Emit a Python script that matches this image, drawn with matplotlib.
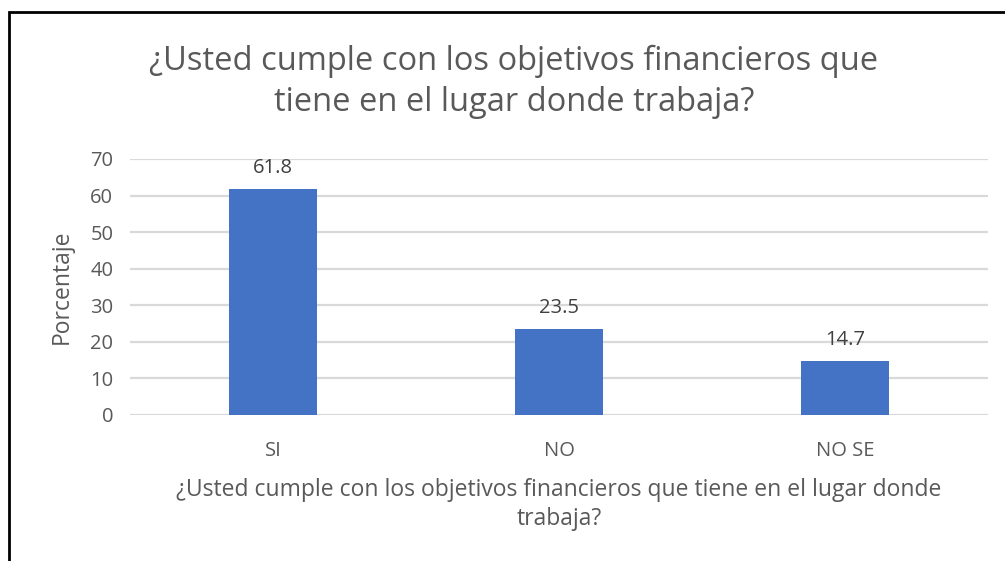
import numpy as np
import matplotlib.pyplot as plt
from matplotlib.patches import Rectangle

categorias = ['SI', 'NO', 'NO SE']
porcentajes = [61.8, 23.5, 14.7]
yticks = [0, 10, 20, 30, 40, 50, 60, 70]

gris = '#595959'
azul = '#4472C4'
plt.rcParams['font.family'] = ['Open Sans', 'DejaVu Sans']

fig = plt.figure(figsize=(10.05, 5.61), dpi=100)
ax = fig.add_axes([130/1005, 1-415/561, (988-130)/1005, (415-159)/561])

x = np.arange(len(categorias))
ax.bar(x, porcentajes, width=0.31, color=azul, zorder=3)
for xi, v in zip(x, porcentajes):
    ax.annotate(f'{v}', (xi, v), xytext=(0, 8), textcoords='offset points',
                ha='center', va='bottom', fontsize=14.5, color='#404040')

ax.set_xlim(-0.5, 2.5)
ax.set_ylim(0, 70)
ax.set_yticks(yticks)
ax.grid(axis='y', color='#d9d9d9', linewidth=1.6, zorder=0)
for s in ax.spines.values():
    s.set_visible(False)
ax.tick_params(length=0, labelsize=14.5, colors=gris, pad=12)
ax.tick_params(axis='x', pad=19)
ax.set_xticks(x)
ax.set_xticklabels(categorias)

ax.set_ylabel('Porcentaje', fontsize=16.5, color=gris, labelpad=12)
ax.set_xlabel('¿Usted cumple con los objetivos financieros que tiene en el lugar donde\ntrabaja?',
              fontsize=16.5, color=gris, labelpad=12, linespacing=1.28)

fig.text(514/1005, 1-82/561,
         '¿Usted cumple con los objetivos financieros que\ntiene en el lugar donde trabaja?',
         ha='center', va='center', fontsize=23.5, color=gris, linespacing=1.35)

# marco
fig.patches.append(Rectangle((9/1005, -0.1), 1.2, 1.1 - 12.5/561,
                             transform=fig.transFigure, fill=False,
                             edgecolor='black', linewidth=2))

fig.savefig('out.png', dpi=100)
